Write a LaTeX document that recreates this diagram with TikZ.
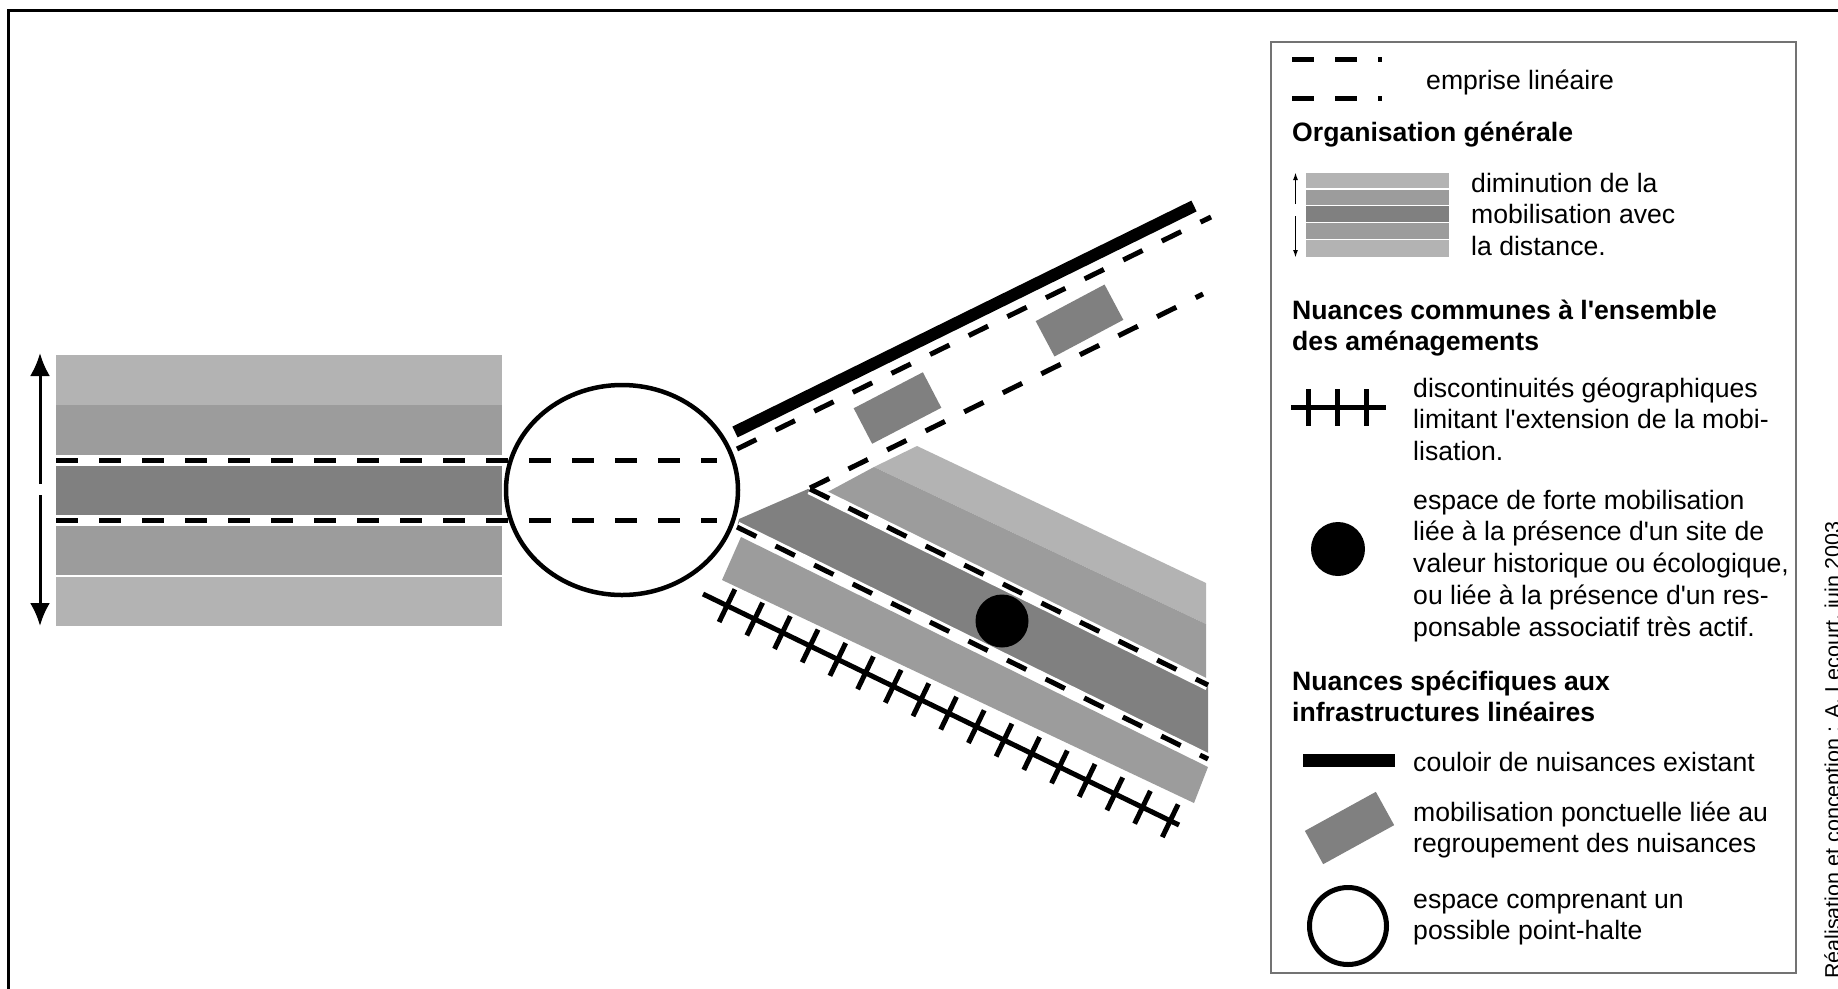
\documentclass[tikz,border=0pt]{standalone}
\usepackage{fontspec}
\setmainfont{Liberation Sans}[Ligatures=TeXOff]
\usetikzlibrary{arrows.meta}
\definecolor{gA}{RGB}{179,179,179}
\definecolor{gB}{RGB}{156,156,156}
\definecolor{gC}{RGB}{128,128,128}
\definecolor{boxg}{RGB}{115,115,115}
\tikzset{
  dashline/.style={line width=5pt, dash pattern=on 21.5pt off 21.5pt},
  whiteback/.style={line width=11pt, white},
  txt/.style={inner sep=0pt, anchor=base west, align=left, font=\fontsize{26.6}{31.8}\selectfont},
  btxt/.style={inner sep=0pt, anchor=base west, align=left, font=\fontsize{26.6}{31.8}\selectfont\bfseries},
  hatch/.style={line width=5pt},
  bigarrow/.style={line width=3pt, -{Latex[length=23pt,width=20pt]}},
  smallarrow/.style={line width=1.8pt, -{Latex[length=8pt,width=5pt]}},
  grect/.style={fill=gC, inner sep=0pt, draw=none},
}
\begin{document}
\begin{tikzpicture}[x=1pt,y=-1pt]
\useasboundingbox (0,0) rectangle (1838,988);
\fill[white] (0,0) rectangle (1838,988);
% outer frame
\draw[line width=3pt] (8.5,992) -- (8.5,10) -- (1842,10);

% ---------- left band ----------
\fill[gA] (56,355) rectangle (502,405);
\fill[gB] (56,405) rectangle (502,460);
\fill[gC] (56,460) rectangle (502,520);
\fill[gB] (56,520) rectangle (502,575);
\fill[gA] (56,576.5) rectangle (502,626);
\draw[white, line width=1.5pt] (56,575.5) -- (502,575.5);
\draw[whiteback] (56,460) -- (502,460);
\draw[whiteback] (56,520) -- (502,520);
\coordinate (au0) at (40,484); \coordinate (au1) at (40,353);
\coordinate (ad0) at (40,495); \coordinate (ad1) at (40,626);
\draw[bigarrow] (au0) -- (au1);
\draw[bigarrow] (ad0) -- (ad1);

% ---------- lower branch ----------
\fill[gA] (917,446) -- (1206,583) -- (1206,624) -- (874,467) -- cycle;
\fill[gB] (874,467) -- (1206,624) -- (1206,686) -- (822,495) -- cycle;
\fill[gC] (739,519) -- (808,489) -- (1208,685) -- (1208,759) -- (737,527) -- cycle;
\fill[gB] (741,537) -- (1208,767) -- (1194,803) -- (722,580) -- cycle;
\coordinate (L2a) at (810,489); \coordinate (L2b) at (1208,685);
\coordinate (L1a) at (737,527); \coordinate (L1b) at (1208,759);
\draw[whiteback] (L2a) -- (L2b);
\draw[whiteback] (L1a) -- (L1b);

% point-halte ellipse
\draw[line width=4.5pt] (622,490) ellipse [x radius=116, y radius=105];
\draw[dashline] (56,460) -- (717,460);
\draw[dashline] (56,520) -- (717,520);

\draw[dashline] (L2a) -- (L2b);
\draw[dashline] (L1a) -- (L1b);
\fill (1002,621) circle [radius=26.5];

% discontinuity line
\coordinate (h1) at (703,594); \coordinate (h2) at (1179,825);
\draw[hatch] (h1) -- (h2);
\foreach \i in {0,...,16}{
  \pgfmathsetmacro\tx{727+\i*27.7}
  \pgfmathsetmacro\ty{594+0.4853*(\tx-703)}
  \draw[hatch] (\tx+7.9,\ty-16.4) -- (\tx-7.9,\ty+16.4);
}

% ---------- upper branch ----------
\coordinate (Ba) at (735,432); \coordinate (Bb) at (1194,206);
\draw[line width=12pt] (Ba) -- (Bb);
\coordinate (U1a) at (737,449); \coordinate (U1b) at (1211,217);
\coordinate (U2a) at (810,488); \coordinate (U2b) at (1203,294);
\draw[dashline] (U1a) -- (U1b);
\draw[dashline] (U2a) -- (U2b);
\node[grect, minimum width=78pt, minimum height=40pt, rotate=27.5] (r1) at (897.5,408) {};
\node[grect, minimum width=78pt, minimum height=40pt, rotate=28] (r2) at (1079.5,320.5) {};

% ---------- legend ----------
\draw[boxg, line width=2.5pt] (1271,42) rectangle (1796,973);
% emprise
\draw[dashline] (1292,59) -- (1382,59);
\draw[dashline] (1292,98) -- (1382,98);
\node[txt] (t1) at (1426,89) {emprise linéaire};
\node[btxt] (h1t) at (1292,141) {Organisation générale};
% bands
\fill[gA] (1306,173) rectangle (1449,189);
\fill[gB] (1306,189) rectangle (1449,205.5);
\fill[gC] (1306,205.5) rectangle (1449,222.5);
\fill[gB] (1306,222.5) rectangle (1449,239.5);
\fill[gA] (1306,239.5) rectangle (1449,257);
\foreach \yy in {189,205.5,222.5,239.5}{\draw[white,line width=1.3pt] (1306,\yy) -- (1449,\yy);}
\coordinate (lu0) at (1295.5,204); \coordinate (lu1) at (1295.5,172);
\coordinate (ld0) at (1295.5,216); \coordinate (ld1) at (1295.5,258);
\draw[smallarrow] (lu0) -- (lu1);
\draw[smallarrow] (ld0) -- (ld1);
\node[txt] (t2) at (1471,255.6) {diminution de la\\mobilisation avec\\la distance.};
\node[btxt] (h2t) at (1292,350.8) {Nuances communes à l'ensemble\\des aménagements};
% hatch symbol
\draw[hatch] (1291,407) -- (1386,407);
\foreach \xx in {1308,1337,1366}{\draw[hatch] (\xx,389) -- (\xx,426);}
\node[txt] (t3) at (1413,460.6) {discontinuités géographiques\\limitant l'extension de la mobi-\\lisation.};
\fill (1338,549) circle [radius=27];
\node[txt] (t4) at (1413,636.2) {espace de forte mobilisation\\liée à la présence d'un site de\\valeur historique ou écologique,\\ou liée à la présence d'un res-\\ponsable associatif très actif.};
\node[btxt] (h3t) at (1292,721.8) {Nuances spécifiques aux\\infrastructures linéaires};
\draw[line width=13pt] (1303,760) -- (1395,760);
\node[txt] (t5) at (1413,771) {couloir de nuisances existant};
\node[grect, minimum width=81pt, minimum height=38pt, rotate=28.8] (lr) at (1349.5,828) {};
\node[txt] (t6) at (1413,852.8) {mobilisation ponctuelle liée au\\regroupement des nuisances};
\draw[line width=5pt] (1348,926) circle [radius=38.5];
\node[txt] (t7) at (1413,939.8) {espace comprenant un\\possible point-halte};

% credit
\node[rotate=90, anchor=base west, inner sep=0pt, font=\fontsize{21.5}{24}\selectfont] (credit) at (1840,979) {Réalisation et conception : A. Lecourt, juin 2003};
\end{tikzpicture}
\end{document}
